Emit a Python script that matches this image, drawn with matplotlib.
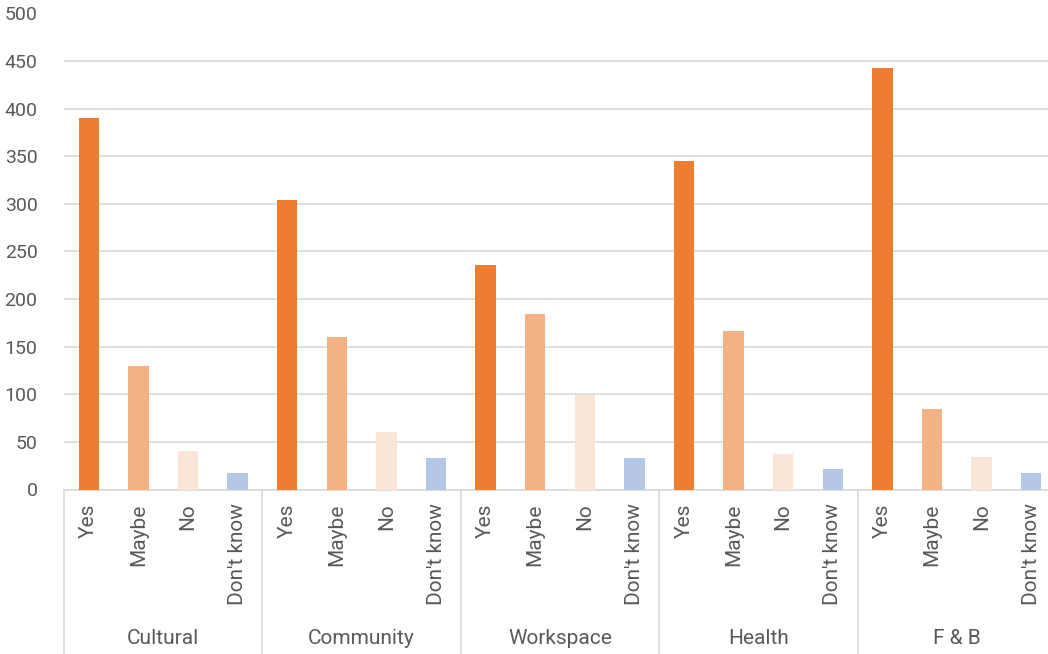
import matplotlib.pyplot as plt
import matplotlib.transforms as mtransforms
import numpy as np

# données
groupes = ["Cultural", "Community", "Workspace", "Health", "F & B"]
reponses = ["Yes", "Maybe", "No", "Don't know"]
oui = [390, 304, 236, 345, 443]
peutetre = [130, 160, 184, 166, 85]
non = [40, 60, 99, 37, 34]
nsp = [17, 33, 33, 22, 17]
series = [oui, peutetre, non, nsp]
couleurs = ["#ED7D31", "#F4B183", "#FBE5D6", "#B4C7E7"]

plt.rcParams['font.family'] = ['Roboto', 'DejaVu Sans']
gris_txt = "#595959"
gris_ligne = "#D9D9D9"

W, H = 1048, 654
fig = plt.figure(figsize=(W/100, H/100), dpi=100)
ax = fig.add_axes([64/W, (H-489.5)/H, (W-64)/W, (489.5-13.5)/H])

n = len(reponses)
for k, vals in enumerate(series):
    x = np.arange(len(groupes))*n + k
    ax.bar(x, vals, width=0.41, color=couleurs[k], zorder=3)

ax.set_ylim(0, 500)
ax.set_yticks(np.arange(0, 501, 50))
ax.set_xlim(-0.5, (W-64)/49.6 - 0.5)
ax.grid(axis='y', color=gris_ligne, linewidth=1.2, zorder=0)
for s in ['top', 'right', 'left']:
    ax.spines[s].set_visible(False)
ax.spines['bottom'].set_color(gris_ligne)
ax.spines['bottom'].set_linewidth(1.2)

pos = np.arange(len(groupes)*n)
ax.set_xticks(pos)
ax.set_xticklabels(reponses*len(groupes), rotation=90, fontsize=15, color=gris_txt)
ax.tick_params(axis='x', length=0, pad=10)
ax.tick_params(axis='y', length=0, pad=19, labelsize=14, labelcolor=gris_txt)

trans = mtransforms.blended_transform_factory(ax.transData, ax.transAxes)
bas = -(H-489.5)/476
for g in range(len(groupes)+1):
    xg = g*n - 0.5
    ax.plot([xg, xg], [0, bas], transform=trans, color=gris_ligne, linewidth=1.2, clip_on=False)
for g, nom in enumerate(groupes):
    ax.text(g*n + 1.5, -0.313, nom, transform=trans, ha='center', va='center',
            fontsize=15, color=gris_txt)

fig.savefig("out.png", dpi=100)
